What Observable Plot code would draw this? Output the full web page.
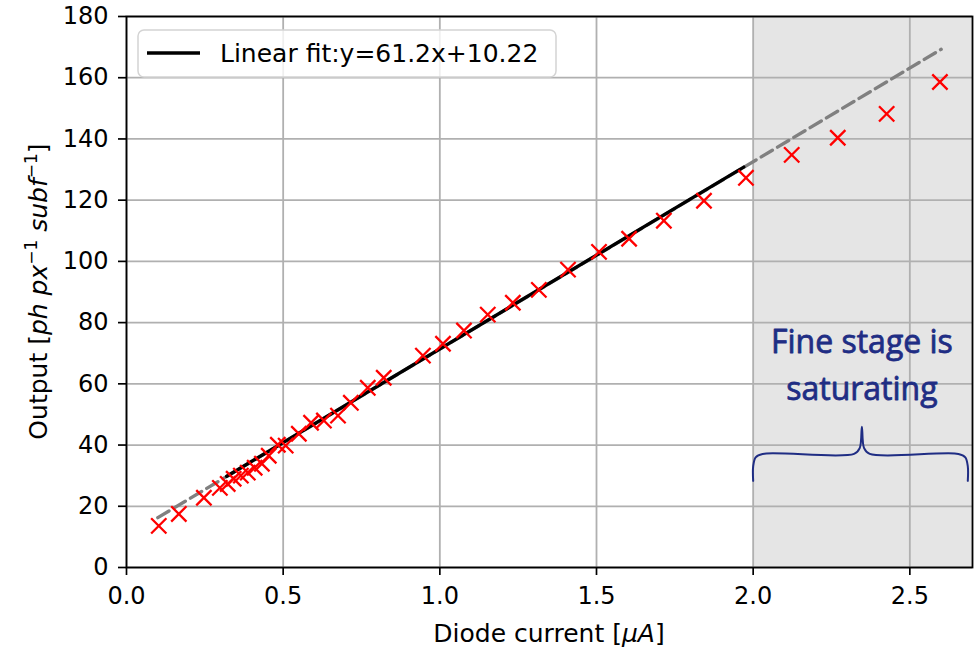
<!DOCTYPE html>
<html><head><meta charset="utf-8">
<script src="https://cdn.jsdelivr.net/npm/d3@7"></script>
<script src="https://cdn.jsdelivr.net/npm/@observablehq/plot@0.6"></script>
<style>body{margin:0;background:#fff} svg{display:block}</style>
</head><body><div id="chart"></div>
<script>
// measured points (diode current in µA, output)
const current = [0.103,0.167,0.247,0.298,0.323,0.342,0.365,0.387,0.409,0.432,0.454,0.483,0.508,0.550,0.589,0.630,0.675,0.716,0.770,0.821,0.946,1.010,1.077,1.153,1.233,1.316,1.409,1.508,1.604,1.715,1.843,1.977,2.123,2.270,2.426,2.596];
const output  = [13.6,17.5,22.8,26.0,27.3,29.0,30.0,31.0,32.6,33.9,36.5,40.1,39.8,43.7,47.3,48.0,49.6,53.8,58.7,62.0,69.2,73.1,77.4,82.6,86.5,90.7,97.3,103.1,107.4,113.3,119.8,127.3,134.8,140.4,148.2,158.6];
// linear fit y = 61.2x + 10.22 (end points)
const fitSolidX = [0.32, 1.97];
const fitSolidY = [29.8, 130.8];
const fitDashX = [0.10, 2.60];
const fitDashY = [16.3, 169.3];
const legendLabel = "Linear fit:y=61.2x+10.22";
// ticks
const xTicks = [0, 0.5, 1.0, 1.5, 2.0, 2.5];
const yTicks = [0, 20, 40, 60, 80, 100, 120, 140, 160, 180];
// saturation region
const satStart = [2.0];
const satEnd = [2.7];
// brace annotation (data units)
const braceX = [2.0, 2.0, 2.008, 2.03, 2.322, 2.340, 2.347, 2.354, 2.372, 2.655, 2.677, 2.685, 2.685];
const braceY = [28.3, 33.0, 36.0, 37.1, 37.1, 39.0, 46.0, 39.0, 37.1, 37.1, 36.0, 33.0, 28.3];
const noteText = ["Fine stage is\nsaturating"];
const noteX = [2.347];
const noteY = [67.4];

const pts = current.map((x, i) => ({x, y: output[i]}));
const solid = fitSolidX.map((x, i) => ({x, y: fitSolidY[i]}));
const dash = fitDashX.map((x, i) => ({x, y: fitDashY[i]}));
const brace = braceX.map((x, i) => ({x, y: braceY[i]}));
const span = satStart.map((s, i) => ({x1: s, x2: satEnd[i]}));
const note = noteText.map((t, i) => ({t, x: noteX[i], y: noteY[i]}));

const W = 979, H = 649, ML = 126, MR = 7, MT = 16, MB = 82;

const chart = Plot.plot({
  width: W, height: H,
  marginLeft: ML, marginRight: MR, marginTop: MT, marginBottom: MB,
  style: {fontFamily: "DejaVu Sans", fontSize: "24px", background: "white", color: "black"},
  x: {domain: [0, 2.7], ticks: xTicks, tickFormat: d3.format(".1f")},
  y: {domain: [0, 180], ticks: yTicks},
  marks: [
    Plot.rect(span, {x1: "x1", x2: "x2", y1: 0, y2: 180, fill: "#e5e5e5"}),
    Plot.gridX(xTicks, {stroke: "#b0b0b0", strokeOpacity: 1, strokeWidth: 1.8}),
    Plot.gridY(yTicks, {stroke: "#b0b0b0", strokeOpacity: 1, strokeWidth: 1.8}),
    Plot.line(dash, {x: "x", y: "y", stroke: "#808080", strokeWidth: 3.4, strokeDasharray: "13,6"}),
    Plot.line(solid, {x: "x", y: "y", stroke: "black", strokeWidth: 3.4}),
    Plot.dot(pts, {x: "x", y: "y", symbol: "times", r: 7, stroke: "red", strokeWidth: 2.3}),
    Plot.line(brace, {x: "x", y: "y", stroke: "#1f2d84", strokeWidth: 2, curve: "catmull-rom"}),
    Plot.text(note, {x: "x", y: "y", text: "t", fill: "#1f2d84", stroke: "#1f2d84", strokeWidth: 0.8, fontSize: 32, lineHeight: 1.47, fontFamily: "Open Sans", textAnchor: "middle"}),
    Plot.axisX(xTicks, {tickSize: 8, tickPadding: 11, strokeWidth: 1.7, label: null, tickFormat: d3.format(".1f")}),
    Plot.axisY(yTicks, {tickSize: 8, tickPadding: 10, strokeWidth: 1.7, label: null}),
    Plot.frame({stroke: "black", strokeWidth: 1.8})
  ]
});

const svg = d3.select(chart);
// legend
const lg = svg.append("g");
lg.append("rect").attr("x", 138).attr("y", 30).attr("width", 418).attr("height", 47).attr("rx", 6)
  .attr("fill", "white").attr("fill-opacity", 0.8).attr("stroke", "#d4d4d4").attr("stroke-width", 1.5);
lg.append("line").attr("x1", 147).attr("x2", 200).attr("y1", 53).attr("y2", 53)
  .attr("stroke", "black").attr("stroke-width", 3.4);
lg.append("text").attr("x", 220).attr("y", 62).attr("text-anchor", "start").attr("font-size", 25).attr("font-family", "DejaVu Sans")
  .attr("fill", "black").text(legendLabel);

// x label
const xl = svg.append("text").attr("x", (ML + W - MR) / 2).attr("y", 642).attr("text-anchor", "middle")
  .attr("font-size", 25).attr("font-family", "DejaVu Sans").attr("fill", "black");
xl.append("tspan").text("Diode current [");
xl.append("tspan").attr("font-style", "italic").text("μA");
xl.append("tspan").text("]");

// y label
const yl = svg.append("text").attr("transform", `translate(47,${(MT + H - MB) / 2}) rotate(-90)`)
  .attr("text-anchor", "middle").attr("font-size", 25).attr("font-family", "DejaVu Sans").attr("fill", "black");
yl.append("tspan").text("Output [");
yl.append("tspan").attr("font-style", "italic").text("ph px");
yl.append("tspan").attr("font-size", 17).attr("dy", -10).text("−1");
yl.append("tspan").attr("font-style", "italic").attr("dy", 10).text(" subf");
yl.append("tspan").attr("font-size", 17).attr("dy", -10).text("−1");
yl.append("tspan").attr("dy", 10).text("]");

document.getElementById("chart").appendChild(chart);
</script>
</body></html>
